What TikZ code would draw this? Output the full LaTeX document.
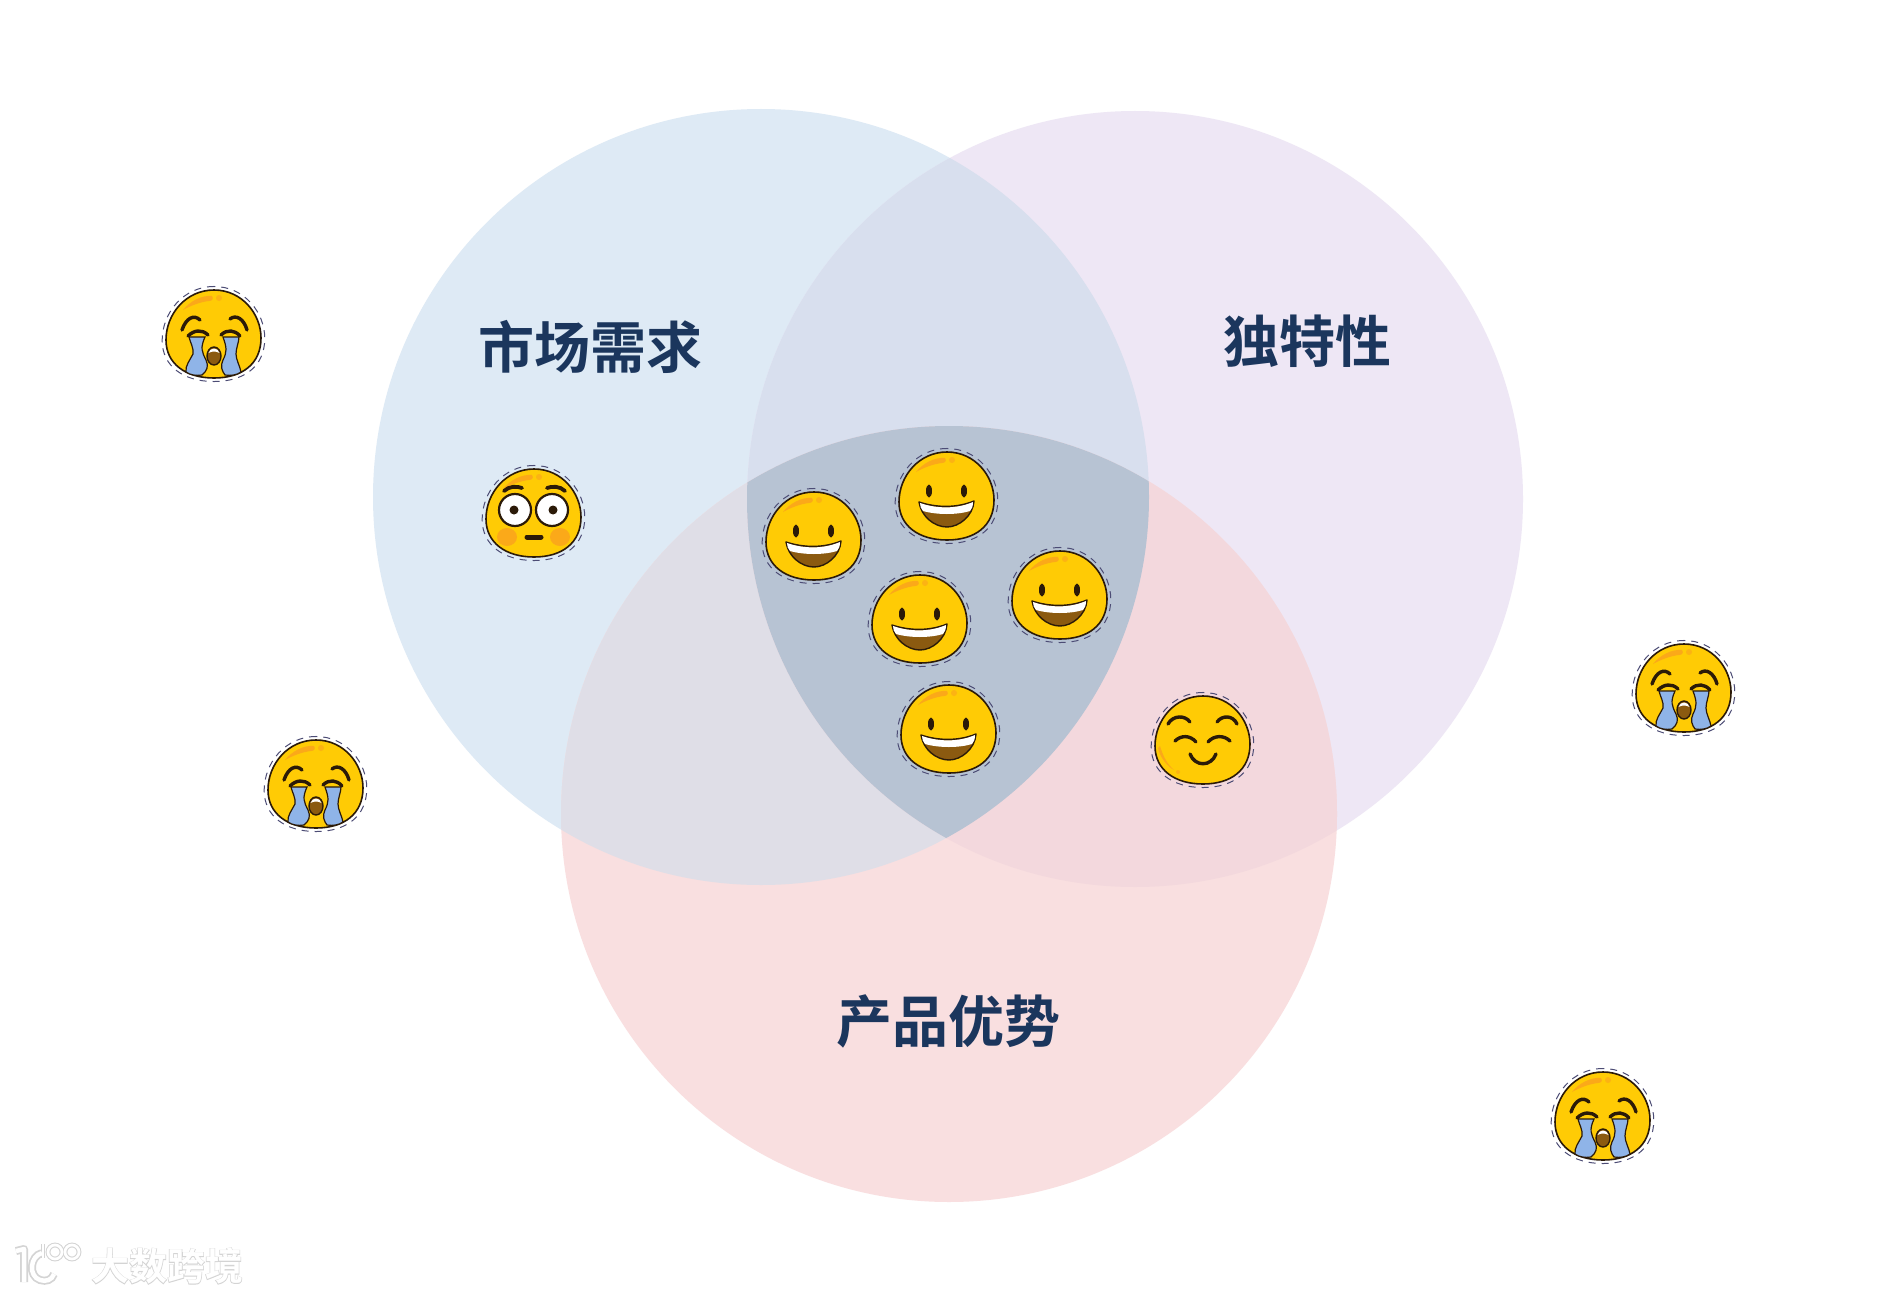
\documentclass[tikz,border=0pt]{standalone}
\usepackage{fontspec}
\newfontfamily\cjkbold{Noto Sans CJK SC Bold}
\newfontfamily\cjkhalo[FakeBold=3]{Noto Sans CJK SC Bold}
\definecolor{cblue}{HTML}{DEEAF5}
\definecolor{cpurple}{HTML}{EEE7F5}
\definecolor{cpink}{HTML}{F9DFE0}
\definecolor{cbp}{HTML}{D8DFEE}
\definecolor{cbk}{HTML}{DFDEE7}
\definecolor{cpk}{HTML}{F3D8DD}
\definecolor{ccenter}{HTML}{B7C3D3}
\definecolor{titlecol}{HTML}{1B365D}
\definecolor{faceyellow}{HTML}{FFCB05}
\definecolor{faceink}{HTML}{2B1A08}
\definecolor{faceorange}{HTML}{FBA919}
\definecolor{mouthbrown}{HTML}{8B5A10}
\definecolor{tearblue}{HTML}{8FB4E8}
\definecolor{haloCol}{HTML}{D4D4D4}
\def\blobpath{(0,-44) .. controls (-28,-44) and (-48,-20) .. (-48,6) .. controls (-48,30) and (-28,44) .. (0,44) .. controls (28,44) and (47,30) .. (47,4) .. controls (47,-20) and (28,-44) .. (0,-44) -- cycle}
\tikzset{
  x=1pt,y=-1pt,
  title/.style={font=\cjkbold\fontsize{56}{60}\selectfont,text=titlecol,inner sep=0pt},
  ink/.style={draw=faceink,line width=3.4pt,line cap=round,fill=none},
  blob/.pic={
    \draw[draw=black!60!blue!40!gray,line width=1pt,dash pattern=on 7pt off 6pt,scale=1.08] \blobpath;
    \draw[fill=faceyellow,draw=faceink,line width=1.6pt] \blobpath;
  },
  shine/.pic={
    \fill[faceorange] (-31,-24) .. controls (-24,-33) and (-12,-39) .. (-2,-38) .. controls (0,-35) and (-2,-33) .. (-5,-33) .. controls (-14,-32) and (-24,-28) .. (-31,-24) -- cycle;
    \fill[faceorange!70!faceyellow] (5,-36) circle (3);
  },
  smileface/.pic={
    \pic {blob}; \pic {shine};
    \fill[faceink] (-18,-5) ellipse (3 and 6.5);
    \fill[faceink] (17,-5) ellipse (3 and 6.5);
    \draw[fill=mouthbrown,draw=faceink,line width=1.4pt,line join=round] (-28,6) .. controls (-10,12) and (10,12) .. (27,5) .. controls (26,20) and (12,31) .. (0,31) .. controls (-13,31) and (-26,20) .. (-28,6) -- cycle;
    \fill[white] (-27,7) .. controls (-10,13) and (10,13) .. (26,6) .. controls (26,10) and (25,13) .. (23,15) .. controls (10,19) and (-10,19) .. (-24,15) .. controls (-26,13) and (-27,10) .. (-27,7) -- cycle;
  },
  cryface/.pic={
    \pic {blob}; \pic {shine};
    \draw[ink] (-32,-4) .. controls (-28,-16) and (-20,-20) .. (-14,-14);
    \draw[ink] (16,-15) .. controls (22,-20) and (30,-15) .. (33,-4);
    \draw[fill=tearblue,draw=faceink,line width=1.2pt] (-25,3) -- (-9,3) .. controls (-14,14) and (-12,18) .. (-8,26) .. controls (-5,32) and (-7,37) .. (-12,41) .. controls (-18,42) and (-24,41) .. (-28,38) .. controls (-29,32) and (-24,26) .. (-21,20) .. controls (-20,14) and (-24,8) .. (-25,3) -- cycle;
    \draw[fill=tearblue,draw=faceink,line width=1.2pt] (25,3) -- (9,3) .. controls (13,14) and (13,18) .. (9,26) .. controls (6,32) and (8,37) .. (11,41) .. controls (17,42) and (23,41) .. (27,38) .. controls (26,32) and (22,26) .. (22,20) .. controls (22,14) and (25,8) .. (25,3) -- cycle;
    \draw[ink] (-26,2) .. controls (-20,-4) and (-12,-5) .. (-6,1);
    \draw[ink] (7,1) .. controls (13,-5) and (21,-4) .. (26,2);
    \draw[fill=mouthbrown,draw=faceink,line width=1.4pt] (0,22) ellipse (7 and 9);
    \fill[white] (-5.5,19) .. controls (-4,13) and (4,13) .. (5.5,19) .. controls (2,17) and (-2,17) .. (-5.5,19) -- cycle;
  },
  shockface/.pic={
    \pic {blob}; \pic {shine};
    \fill[faceorange] (-27,24) ellipse (10 and 9);
    \fill[faceorange] (26,24) ellipse (10 and 9);
    \draw[ink,line width=3.8pt] (-30,-22) .. controls (-25,-27) and (-17,-27) .. (-12,-25);
    \draw[ink,line width=3.8pt] (13,-25) .. controls (18,-27) and (26,-27) .. (31,-22);
    \draw[fill=white,draw=faceink,line width=2.2pt] (-19,-3) circle (16);
    \draw[fill=white,draw=faceink,line width=2.2pt] (18,-3) circle (16);
    \fill[faceink] (-20,-3) circle (4.5);
    \fill[faceink] (19,-3) circle (4.5);
    \draw[ink,line width=5pt] (-7,24) -- (7,24);
  },
  contentface/.pic={
    \pic {blob};
    \fill[faceorange] (-43,6) .. controls (-40,16) and (-36,24) .. (-29,30) .. controls (-35,27) and (-43,18) .. (-45,8) -- cycle;
    \fill[faceorange!70!faceyellow] (-25,32) circle (2);
    \draw[ink] (-35,-16) .. controls (-30,-25) and (-18,-25) .. (-13,-18);
    \draw[ink] (14,-18) .. controls (19,-25) and (30,-25) .. (34,-16);
    \draw[ink] (-28,1) .. controls (-22,-5) and (-13,-5) .. (-7,2);
    \draw[ink] (5,2) .. controls (11,-5) and (21,-5) .. (27,1);
    \draw[ink] (-13,14) .. controls (-8,27) and (8,27) .. (13,14);
  },
}
\begin{document}
\begin{tikzpicture}
\useasboundingbox (0,0) rectangle (1900,1297);
\fill[white] (0,0) rectangle (1900,1297);
\def\cb{(761,497) circle (388)}
\def\cp{(1135,499) circle (388)}
\def\ck{(949,814) circle (388)}
\fill[cblue] \cb;
\fill[cpurple] \cp;
\fill[cpink] \ck;
\begin{scope}\clip \cb; \fill[cbp] \cp; \fill[cbk] \ck; \end{scope}
\begin{scope}\clip \cp; \fill[cpk] \ck; \end{scope}
\begin{scope}\clip \cb; \clip \cp; \fill[ccenter] \ck; \end{scope}

\node[title] (market) at (590,347) {市场需求};
\node[title] (unique) at (1307,341) {独特性};
\node[title] (product) at (948,1021) {产品优势};

\pic at (814,536) {smileface};
\pic at (947,496) {smileface};
\pic at (920,619) {smileface};
\pic at (1060,595) {smileface};
\pic at (949,729) {smileface};
\pic at (534,513) {shockface};
\pic at (1203,740) {contentface};
\pic at (214,334) {cryface};
\pic at (316,784) {cryface};
\pic at (1684,688) {cryface};
\pic at (1603,1116) {cryface};

% watermark
\foreach \c/\w in {haloCol/8pt,white/4.5pt}{
  \draw[\c,line width=\w,line join=round] (16,1251) -- (24,1249) -- (24,1282);
  \draw[\c,line width=\w] (42,1253) .. controls (30,1256) and (28,1276) .. (40,1280) .. controls (46,1282) and (52,1280) .. (54,1274);
  \draw[\c,line width=\w*0.6] (43,1244) -- (43,1258);
  \draw[\c,line width=\w*0.6] (55,1252) circle (7);
  \draw[\c,line width=\w*0.6] (72,1252) circle (7);
}
\node[inner sep=0pt] (mark) at (167,1266) {\fontsize{38}{40}\selectfont\rlap{\cjkhalo\color{haloCol}大数跨境}\cjkbold\color{white}大数跨境};
\end{tikzpicture}
\end{document}
